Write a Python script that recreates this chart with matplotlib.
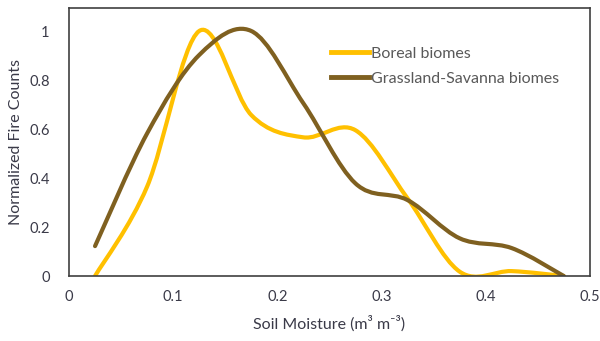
import numpy as np
import matplotlib
matplotlib.use("Agg")
import matplotlib.pyplot as plt
from matplotlib.path import Path
from matplotlib.patches import PathPatch
from matplotlib.lines import Line2D

plt.rcParams['font.family'] = ['Lato', 'DejaVu Sans']

# Soil moisture bin centres (m3 m-3)
soil_moisture = [0.025, 0.075, 0.125, 0.175, 0.225, 0.275, 0.325, 0.375, 0.425, 0.475]
# Normalized fire counts
boreal = [0.0, 0.365, 1.0, 0.657, 0.566, 0.595, 0.317, 0.018, 0.02, 0.0]
grassland = [0.122, 0.582, 0.902, 1.0, 0.705, 0.378, 0.31, 0.154, 0.114, 0.0]

series_names = ["Boreal biomes", "Grassland-Savanna biomes"]
series_colors = ["#FFC000", "#7F6020"]
text_color = "#3a3a48"


def smooth_path(x, y, tension=1 / 6):
    # bezier through the data points, like a spreadsheet "smoothed line"
    x = np.asarray(x, dtype=float)
    y = np.asarray(y, dtype=float)
    xp = np.concatenate([[x[0]], x, [x[-1]]])
    yp = np.concatenate([[y[0]], y, [y[-1]]])
    verts = [(x[0], y[0])]
    codes = [Path.MOVETO]
    for i in range(1, len(x)):
        p0 = (xp[i - 1], yp[i - 1])
        p1 = (xp[i], yp[i])
        p2 = (xp[i + 1], yp[i + 1])
        p3 = (xp[i + 2], yp[i + 2])
        c1 = (p1[0] + (p2[0] - p0[0]) * tension, p1[1] + (p2[1] - p0[1]) * tension)
        c2 = (p2[0] - (p3[0] - p1[0]) * tension, p2[1] - (p3[1] - p1[1]) * tension)
        verts += [c1, c2, p2]
        codes += [Path.CURVE4] * 3
    return Path(verts, codes)


fig = plt.figure(figsize=(6, 3.41), dpi=100)
ax = fig.add_axes([0.115, 0.1906, 0.868, 0.786])

for values, color in zip([boreal, grassland], series_colors):
    patch = PathPatch(smooth_path(soil_moisture, values), facecolor="none",
                      edgecolor=color, lw=3, capstyle="round")
    ax.add_patch(patch)

ax.set_xlim(0, 0.5)
ax.set_ylim(0, 1.094)
ax.set_xticks([0, 0.1, 0.2, 0.3, 0.4, 0.5])
ax.set_xticklabels(["0", "0.1", "0.2", "0.3", "0.4", "0.5"])
ax.set_yticks([0, 0.2, 0.4, 0.6, 0.8, 1.0])
ax.set_yticklabels(["0", "0.2", "0.4", "0.6", "0.8", "1"])
ax.tick_params(length=0, labelsize=10.5, colors=text_color, pad=10)
ax.tick_params(axis="y", pad=14)

for spine in ax.spines.values():
    spine.set_color("#404040")
    spine.set_linewidth(1.2)

ax.set_xlabel("Soil Moisture (m³ m⁻³)", fontsize=11.5, color=text_color, labelpad=8)
ax.set_ylabel("Normalized Fire Counts", fontsize=11.5, color=text_color, labelpad=4)

handles = [Line2D([], [], color=c, lw=3.5) for c in series_colors]
leg = ax.legend(handles, series_names, loc="upper left", bbox_to_anchor=(0.488, 0.885),
                frameon=False, fontsize=11.5, handlelength=2.4, handletextpad=0.08,
                labelspacing=0.65, borderpad=0)
for t in leg.get_texts():
    t.set_color("#595959")

fig.savefig("out.png", dpi=100)
